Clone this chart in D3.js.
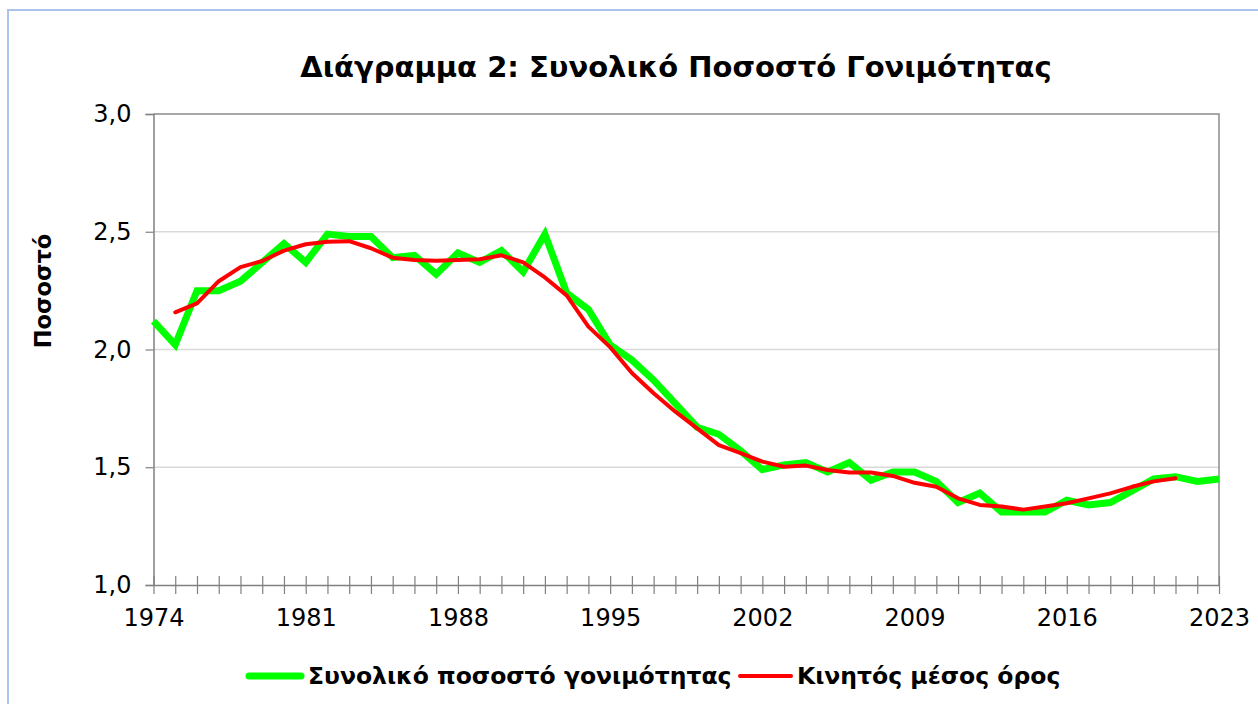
<!DOCTYPE html>
<html>
<head>
<meta charset="utf-8">
<script src="https://cdn.jsdelivr.net/npm/d3@7/dist/d3.min.js"></script>
<style>
  html, body { margin: 0; padding: 0; background: #fff; }
  svg { display: block; }
  text { font-family: "DejaVu Sans", Verdana, sans-serif; fill: #000; }
</style>
</head>
<body>
<svg id="chart" width="1258" height="704"></svg>
<script>
const years = d3.range(1974, 2024);
const fertility = [
  2.12, 2.02, 2.25, 2.25, 2.29, 2.37, 2.45, 2.37, 2.49, 2.48,
  2.48, 2.39, 2.40, 2.32, 2.41, 2.37, 2.42, 2.33, 2.49, 2.24,
  2.17, 2.02, 1.955, 1.87, 1.77, 1.67, 1.64, 1.57, 1.49, 1.51,
  1.52, 1.48, 1.52, 1.445, 1.48, 1.48, 1.44, 1.35, 1.39, 1.31,
  1.31, 1.31, 1.36, 1.34, 1.35, 1.40, 1.45, 1.46, 1.44, 1.45
];
const maYears = d3.range(1975, 2022);
const movingAvg = [
  2.158, 2.196, 2.29, 2.35, 2.376, 2.42, 2.447, 2.458, 2.46, 2.43,
  2.39, 2.38, 2.377, 2.38, 2.383, 2.40, 2.37, 2.306, 2.23, 2.097,
  2.01, 1.90, 1.814, 1.736, 1.665, 1.594, 1.56, 1.524, 1.502, 1.507,
  1.488, 1.478, 1.478, 1.463, 1.434, 1.417, 1.368, 1.34, 1.333, 1.32,
  1.333, 1.347, 1.368, 1.389, 1.417, 1.44, 1.453
];
const yTicks = [1.0, 1.5, 2.0, 2.5, 3.0];
const xLabelYears = [1974, 1981, 1988, 1995, 2002, 2009, 2016, 2023];
const titleText = "Διάγραμμα 2: Συνολικό Ποσοστό Γονιμότητας";
const yLabel = "Ποσοστό";
const seriesNames = ["Συνολικό ποσοστό γονιμότητας", "Κινητός μέσος όρος"];

const svg = d3.select("#chart");
const L = 153.5, R = 1219, T = 114, B = 585;

// outer frame
svg.append("rect").attr("x", 8).attr("y", 10).attr("width", 1270).attr("height", 720)
  .attr("fill", "#fff").attr("stroke", "#a9c5ea").attr("stroke-width", 2);

const x = d3.scaleLinear().domain([1974, 2023]).range([L, R]);
const y = d3.scaleLinear().domain([1, 3]).range([B, T]);

// gridlines
svg.append("g").selectAll("line").data(yTicks.filter(v => v > 1 && v < 3)).join("line")
  .attr("x1", L).attr("x2", R).attr("y1", d => y(d)).attr("y2", d => y(d))
  .attr("stroke", "#d9d9d9").attr("stroke-width", 1.3);

// plot border top/right
svg.append("path").attr("d", `M${L},${T}H${R}V${B}`).attr("fill", "none")
  .attr("stroke", "#8c8c8c").attr("stroke-width", 1.5);

// y axis
const yAxis = d3.axisLeft(y).tickValues(yTicks).tickSize(8).tickPadding(14)
  .tickFormat(d => d3.format(".1f")(d).replace(".", ","));
const gy = svg.append("g").attr("transform", `translate(${L},0)`).call(yAxis);
gy.select(".domain").attr("stroke", "#808080").attr("stroke-width", 1.5);
gy.selectAll(".tick line").attr("stroke", "#808080").attr("stroke-width", 1.2);
gy.selectAll("text").style("font-size", "24px").attr("font-family", "DejaVu Sans").attr("fill", "#000");

// x axis: tick every year crossing the axis
const xAxis = d3.axisBottom(x).tickValues(years).tickSizeInner(8).tickSizeOuter(0).tickPadding(16)
  .tickFormat(d => xLabelYears.includes(d) ? String(d) : "");
const gx = svg.append("g").attr("transform", `translate(0,${B})`).call(xAxis);
gx.select(".domain").attr("stroke", "#808080").attr("stroke-width", 1.5);
gx.selectAll(".tick line").attr("y1", -9).attr("y2", 9).attr("stroke", "#808080").attr("stroke-width", 1.2);
gx.selectAll("text").style("font-size", "24px").attr("font-family", "DejaVu Sans").attr("fill", "#000");

// lines
const lineG = d3.line().x((d, i) => x(years[i])).y(d => y(d));
const lineR = d3.line().x((d, i) => x(maYears[i])).y(d => y(d));
svg.append("path").datum(fertility).attr("d", lineG).attr("fill", "none")
  .attr("stroke", "#00ff00").attr("stroke-width", 7).attr("stroke-linejoin", "miter");
svg.append("path").datum(movingAvg).attr("d", lineR).attr("fill", "none")
  .attr("stroke", "#ff0000").attr("stroke-width", 4).attr("stroke-linejoin", "round").attr("stroke-linecap", "round");

// title
svg.append("text").attr("x", 676).attr("y", 77).attr("text-anchor", "middle")
  .style("font-size", "29px").style("font-weight", "bold").text(titleText);

// y label
svg.append("text").attr("transform", "translate(51,291) rotate(-90)").attr("text-anchor", "middle")
  .style("font-size", "22.5px").style("font-weight", "bold").text(yLabel);

// legend
const lg = svg.append("g");
lg.append("line").attr("x1", 249).attr("x2", 301).attr("y1", 676).attr("y2", 676)
  .attr("stroke", "#00ff00").attr("stroke-width", 7).attr("stroke-linecap", "round");
lg.append("text").attr("x", 308).attr("y", 684).style("font-size", "23.5px").style("font-weight", "bold").text(seriesNames[0]);
lg.append("line").attr("x1", 740).attr("x2", 791).attr("y1", 676).attr("y2", 676)
  .attr("stroke", "#ff0000").attr("stroke-width", 4).attr("stroke-linecap", "round");
lg.append("text").attr("x", 797).attr("y", 684).style("font-size", "23.5px").style("font-weight", "bold").text(seriesNames[1]);
</script>
</body>
</html>
